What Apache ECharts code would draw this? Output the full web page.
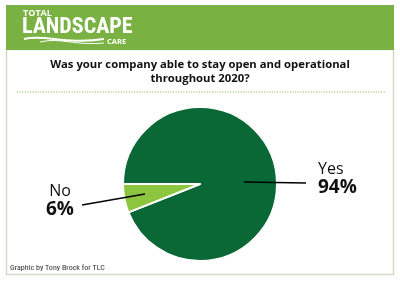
<!DOCTYPE html>
<html><head><meta charset="utf-8">
<script src="https://cdn.jsdelivr.net/npm/echarts@6/dist/echarts.min.js"></script>
<style>html,body{margin:0;padding:0;background:#fff}#c{width:400px;height:283px}</style>
</head><body><div id="c"></div>
<script>
const categories = ['Yes', 'No'];
const values = [94, 6];
const sliceColors = ['#0a6836', '#8cc63f'];
const titleLines = ['Was your company able to stay open and operational', 'throughout 2020?'];
const credit = 'Graphic by Tony Brock for TLC';

const chart = echarts.init(document.getElementById('c'), null, {renderer: 'canvas'});
const F = '"Open Sans", "Noto Sans", sans-serif';
const NARROW = '"Liberation Sans Narrow", "Roboto Condensed", Roboto, sans-serif';
const labelPos = [{x: 318, y: 179, align: 'left'}, {x: 60, y: 201, align: 'center'}];

chart.setOption({
  animation: false,
  backgroundColor: '#fff',
  graphic: [
    {type: 'rect', shape: {x: 6.5, y: 49.5, width: 387, height: 225}, style: {fill: '#fff', stroke: '#d3dcc6', lineWidth: 1.5}, z: 0},
    {type: 'rect', shape: {x: 6, y: 5, width: 388, height: 45}, style: {fill: '#79b242'}, z: 1},
    {type: 'text', x: 23, y: 9, style: {text: 'TOTAL', fill: '#fff', font: 'bold 9px ' + F}, z: 2},
    {type: 'text', x: 22, y: 16, style: {text: 'LANDSCAPE', fill: '#fff', font: 'bold 22px ' + NARROW}, z: 2},
    {type: 'text', x: 107, y: 37.5, style: {text: 'CARE', fill: '#fff', font: 'bold 7.5px ' + F}, z: 2},
    {type: 'bezierCurve', shape: {x1: 24, y1: 39, cpx1: 45, cpy1: 34, cpx2: 65, cpy2: 45, x2: 104, y2: 39}, style: {stroke: '#fff', lineWidth: 2, fill: null}, z: 2},
    {type: 'bezierCurve', shape: {x1: 40, y1: 42, cpx1: 60, cpy1: 37, cpx2: 75, cpy2: 46, x2: 104, y2: 43}, style: {stroke: '#fff', lineWidth: 1, fill: null}, z: 2},
    {type: 'text', x: 200, y: 65, style: {text: titleLines[0], fill: '#111', font: 'bold 11.3px ' + F, align: 'center', verticalAlign: 'middle'}, z: 2},
    {type: 'text', x: 200, y: 79, style: {text: titleLines[1], fill: '#111', font: 'bold 11.3px ' + F, align: 'center', verticalAlign: 'middle'}, z: 2},
    {type: 'line', shape: {x1: 17, y1: 92, x2: 385, y2: 92}, style: {stroke: '#7ab342', lineWidth: 1.2, lineDash: [1, 1.6]}, z: 2},
    {type: 'text', x: 10, y: 268, style: {text: credit, fill: '#333', font: '8px ' + NARROW, verticalAlign: 'middle'}, z: 2},
    {type: 'line', shape: {x1: 244, y1: 182, x2: 306, y2: 183}, style: {stroke: '#000', lineWidth: 1.3}, z: 20},
    {type: 'line', shape: {x1: 82, y1: 205, x2: 145, y2: 194}, style: {stroke: '#000', lineWidth: 1.3}, z: 20}
  ],
  series: [{
    type: 'pie',
    center: [200, 184],
    radius: 77,
    startAngle: 180,
    clockwise: true,
    z: 5,
    data: categories.map((c, i) => ({name: c, value: values[i], itemStyle: {color: sliceColors[i]}})),
    itemStyle: {borderColor: '#fff', borderWidth: 2},
    label: {
      show: true,
      formatter: '{n|{b}}\n{p|{c}%}',
      rich: {
        n: {fontFamily: F, fontSize: 16, color: '#111', lineHeight: 18},
        p: {fontFamily: F, fontSize: 19, fontWeight: 'bold', color: '#111', lineHeight: 20}
      }
    },
    labelLine: {show: false},
    labelLayout: function (p) {
      const l = labelPos[p.dataIndex];
      return {x: l.x, y: l.y, align: l.align, verticalAlign: 'middle'};
    }
  }]
});
</script></body></html>
